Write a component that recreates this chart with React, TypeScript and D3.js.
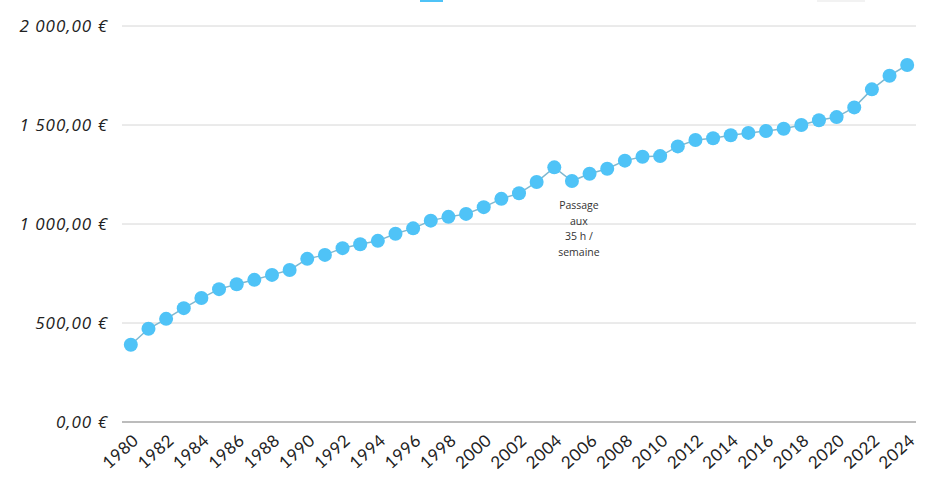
import React from "react";
import * as d3 from "d3";

const years: number[] = [
  1980, 1981, 1982, 1983, 1984, 1985, 1986, 1987, 1988, 1989,
  1990, 1991, 1992, 1993, 1994, 1995, 1996, 1997, 1998, 1999,
  2000, 2001, 2002, 2003, 2004, 2005, 2006, 2007, 2008, 2009,
  2010, 2011, 2012, 2013, 2014, 2015, 2016, 2017, 2018, 2019,
  2020, 2021, 2022, 2023, 2024,
];
const salaire: number[] = [
  390, 471, 521, 575, 626, 671, 696, 718, 743, 768,
  824, 844, 878, 898, 915, 951, 978, 1017, 1036, 1051,
  1085, 1127, 1155, 1212, 1286, 1217, 1254, 1279, 1320, 1340,
  1343, 1392, 1424, 1433, 1448, 1460, 1470, 1481, 1500, 1524,
  1540, 1589, 1680, 1749, 1803,
];
const yTicks: number[] = [0, 500, 1000, 1500, 2000];
const annotationLines: string[] = ["Passage", "aux", "35 h /", "semaine"];
const annotationYear = 2005;
const annotationValue = 1000;

const W = 945;
const H = 480;
const m = { left: 122, right: 29, top: 26, bottom: 58 };

const fmt = (v: number) => {
  const s = v.toFixed(2).replace(".", ",");
  const [int, dec] = s.split(",");
  const withSpaces = int.replace(/\B(?=(\d{3})+(?!\d))/g, " ");
  return `${withSpaces},${dec} €`;
};

export default function App() {
  const x = d3
    .scaleBand<number>()
    .domain(years)
    .range([m.left, W - m.right])
    .padding(0);
  const y = d3.scaleLinear().domain([0, 2000]).range([H - m.bottom, m.top]);
  const cx = (yr: number) => (x(yr) as number) + x.bandwidth() / 2;

  const line = d3
    .line<number>()
    .x((_, i) => cx(years[i]))
    .y((d) => y(d));

  return (
    <svg
      width={W}
      height={H}
      style={{ position: "absolute", left: 0, top: 0, background: "#fff" }}
    >
      <rect x={0} y={0} width={W} height={H} fill="#fff" />
      {/* cut-off legend remnants */}
      <rect x={420} y={-8} width={23} height={10} fill="#4fc3f7" />
      <rect x={817} y={-8} width={48} height={10} fill="#f2f2f2" />

      {yTicks.map((t) => (
        <g key={t}>
          <line
            x1={m.left}
            x2={W - m.right}
            y1={y(t)}
            y2={y(t)}
            stroke={t === 0 ? "#a6a6a6" : "#d6d6d6"}
            strokeWidth={t === 0 ? 1.5 : 1}
          />
          <text
            x={108}
            y={y(t)}
            dy="0.35em"
            textAnchor="end"
            fontFamily="Open Sans, sans-serif"
            fontStyle="italic"
            fontSize={17}
            letterSpacing={1}
            fill="#222"
          >
            {fmt(t)}
          </text>
        </g>
      ))}

      {years
        .filter((yr) => yr % 2 === 0)
        .map((yr) => (
          <text
            key={yr}
            transform={`translate(${cx(yr) + 9},${H - m.bottom + 20}) rotate(-42)`}
            textAnchor="end"
            fontFamily="Lato, sans-serif"
            fontSize={17}
            letterSpacing={0.5}
            fill="#222"
          >
            {yr}
          </text>
        ))}

      <path
        d={line(salaire) || ""}
        fill="none"
        stroke="#7fb8d0"
        strokeWidth={1.5}
      />
      {salaire.map((v, i) => (
        <circle key={years[i]} cx={cx(years[i])} cy={y(v)} r={7} fill="#4fc3f7" />
      ))}

      <text
        x={cx(annotationYear) + 7}
        y={y(annotationValue) - 15}
        textAnchor="middle"
        fontFamily="Open Sans, sans-serif"
        fontSize={10.5}
        fill="#333"
      >
        {annotationLines.map((l, i) => (
          <tspan key={i} x={cx(annotationYear) + 7} dy={i === 0 ? 0 : 15.5}>
            {l}
          </tspan>
        ))}
      </text>
    </svg>
  );
}
